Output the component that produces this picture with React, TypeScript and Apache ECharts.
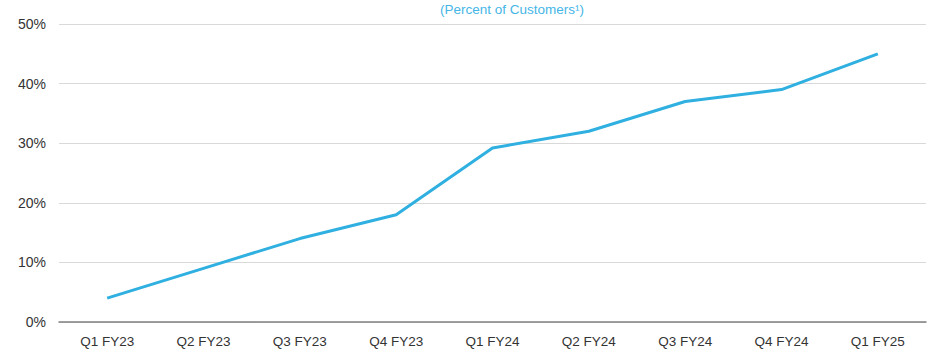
import React, { useEffect, useRef } from "react";
import * as echarts from "echarts";

const categories = ["Q1 FY23", "Q2 FY23", "Q3 FY23", "Q4 FY23", "Q1 FY24", "Q2 FY24", "Q3 FY24", "Q4 FY24", "Q1 FY25"];
const values = [4, 9, 14, 18, 29.2, 32, 37, 39, 45];
const titleText = "(Percent of Customers\u00B9)";

export default function App() {
  const ref = useRef<HTMLDivElement>(null);
  useEffect(() => {
    if (!ref.current) return;
    const chart = echarts.init(ref.current, null, { renderer: "svg" });
    chart.setOption({
      animation: false,
      title: {
        text: titleText,
        left: 507,
        textAlign: "center",
        top: 0,
        padding: [2, 5, 2, 5],
        textStyle: { color: "#45b6e6", fontSize: 13.5, fontWeight: "normal", fontFamily: "Liberation Sans, Arial, sans-serif" },
      },
      grid: { left: 59, right: 14, top: 24, bottom: 31 },
      xAxis: {
        type: "category",
        data: categories,
        boundaryGap: true,
        axisLine: { lineStyle: { color: "#808080", width: 1.5 } },
        axisTick: { show: false },
        axisLabel: { color: "#333", fontSize: 13.5, margin: 12, fontFamily: "Liberation Sans, Arial, sans-serif" },
      },
      yAxis: {
        type: "value",
        min: 0,
        max: 50,
        interval: 10,
        axisLine: { show: false },
        axisTick: { show: false },
        splitLine: { lineStyle: { color: "#d9d9d9", width: 1 } },
        axisLabel: { formatter: "{value}%", color: "#333", fontSize: 14, margin: 13, fontFamily: "Liberation Sans, Arial, sans-serif" },
      },
      series: [
        {
          type: "line",
          data: values,
          symbol: "none",
          lineStyle: { color: "#2fb0e0", width: 3 },
        },
      ],
    });
    return () => chart.dispose();
  }, []);
  return <div ref={ref} style={{ width: 940, height: 353, position: "absolute", left: 0, top: 0, background: "#fff" }} />;
}
